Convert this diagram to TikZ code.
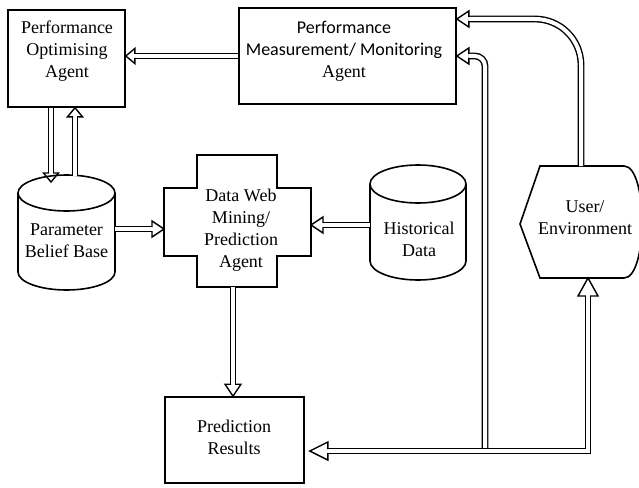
\documentclass[tikz,border=0pt]{standalone}
\usepackage{fontspec}
\setmainfont{LiberationSerif}[Extension=.ttf, UprightFont=*-Regular, BoldFont=*-Bold, ItalicFont=*-Italic, BoldItalicFont=*-BoldItalic]
\newfontfamily\calibfont{Carlito}
\usetikzlibrary{arrows.meta}

% Hollow block-arrow head for double-line connectors: the shaft stays open,
% only the two barbs and the slanted sides are stroked.
\pgfdeclarearrow{
  name = Hollow,
  parameters = {\the\pgfarrowlength,\the\pgfarrowwidth},
  setup code = {
    \pgfarrowssettipend{0pt}
    \pgfarrowssetlineend{-\pgfarrowlength}
    \pgfarrowssetvisualbackend{-\pgfarrowlength}
    \pgfarrowssetbackend{-\pgfarrowlength}
    \pgfarrowshullpoint{0pt}{0pt}
    \pgfarrowshullpoint{-\pgfarrowlength}{.5\pgfarrowwidth}
    \pgfarrowshullpoint{-\pgfarrowlength}{-.5\pgfarrowwidth}
    \pgfarrowssavethe\pgfarrowlength
    \pgfarrowssavethe\pgfarrowwidth
  },
  drawing code = {
    \pgfsetlinewidth{1.4pt}
    \pgfsetmiterjoin
    \pgfsetbuttcap
    \pgfpathmoveto{\pgfqpoint{-\pgfarrowlength}{2pt}}
    \pgfpathlineto{\pgfqpoint{-\pgfarrowlength}{.5\pgfarrowwidth}}
    \pgfpathlineto{\pgfqpoint{0pt}{0pt}}
    \pgfpathlineto{\pgfqpoint{-\pgfarrowlength}{-.5\pgfarrowwidth}}
    \pgfpathlineto{\pgfqpoint{-\pgfarrowlength}{-2pt}}
    \pgfusepathqstroke
  },
  defaults = {length = 12pt, width = 16pt}
}

\tikzset{
  outline/.style={draw, line width=1.6pt, line join=miter},
  box/.style={outline, rectangle, inner sep=0pt},
  lbl/.style={align=center, inner sep=0pt, font=\rmfamily\fontsize{18}{22}\selectfont},
  dbl/.style={double, double distance=4pt, line width=1.4pt, line join=miter},
  smallhead/.style={-{Hollow[length=9pt,width=15pt]}},
  midhead/.style={-{Hollow[length=12pt,width=16pt]}},
  bighead/.style={{Hollow[length=18pt,width=18pt]}-{Hollow[length=18pt,width=20pt]}}
}

\begin{document}
\begin{tikzpicture}[x=1pt,y=-1pt]
\useasboundingbox (0,0) rectangle (639,487);

% --- agents and stores -------------------------------------------------
\node[box, minimum width=117pt, minimum height=97pt] (opt) at (66.5,58.5) {};
\node[lbl] (optT) at (67,51) {Performance\\Optimising\\Agent};

\node[box, minimum width=217pt, minimum height=96pt] (meas) at (347.5,56) {};
\node[lbl] (measT) at (344,51) {{\calibfont Performance}\\{\calibfont Measurement/ Monitoring}\\Agent};

\node[box, minimum width=139pt, minimum height=86pt] (pred) at (234.5,440) {};
\node[lbl] (predT) at (234,437) {Prediction\\Results};

% parameter belief base (cylinder)
\draw[outline] (18,193) -- (18,272) arc[start angle=180, end angle=0, x radius=48.5, y radius=18] -- (115,193);
\draw[outline] (66.5,193) ellipse[x radius=48.5, y radius=18];
\node[lbl] (pbb) at (66.5,241) {Parameter\\Belief Base};
\coordinate (pbbTop) at (66.5,193);
\coordinate (pbbE) at (115,229);

% historical data (cylinder)
\draw[outline] (370,184) -- (370,261) arc[start angle=180, end angle=0, x radius=48, y radius=19] -- (466,184);
\draw[outline] (418,184) ellipse[x radius=48, y radius=19];
\node[lbl] (hist) at (419,239) {Historical\\Data};
\coordinate (histW) at (370,225);

% data web mining / prediction agent (cross)
\draw[outline] (197,155) -- (277,155) -- (277,188) -- (311,188) -- (311,256) -- (277,256)
  -- (277,287) -- (197,287) -- (197,256) -- (164,256) -- (164,188) -- (197,188) -- cycle;
\node[lbl] (dwm) at (241,230) {Data Web\\Mining/\\Prediction\\Agent};
\coordinate (dwmW) at (164,229);
\coordinate (dwmE) at (311,225);
\coordinate (dwmS) at (233,287);

% user / environment (display symbol)
\draw[outline] (540,166) -- (624,166) .. controls (648,166) and (648,278) .. (624,278)
  -- (540,278) -- (520,224) -- cycle;
\node[lbl] (user) at (585,218) {User/\\Environment};
\coordinate (userN) at (581,166);
\coordinate (userS) at (588,278);
\coordinate (loop) at (588,451);

% --- connectors ---------------------------------------------------------
\draw[dbl, smallhead] (meas.west) -- (meas.west -| opt.east);
\draw[dbl, smallhead] ([xshift=-15.5pt]opt.south) -- ([xshift=-15.5pt,yshift=11pt]pbbTop);
\draw[dbl, smallhead] ([xshift=8.5pt,yshift=17pt]pbbTop) -- ([xshift=8.5pt]opt.south);
\draw[dbl, midhead] (pbbE) -- (dwmW);
\draw[dbl, midhead] (histW) -- (dwmE);
\draw[dbl, midhead] (dwmS) -- (dwmS |- pred.north);

\draw[dbl, midhead, rounded corners=10pt] (485,451) |- (meas.east);
\draw[dbl, midhead, rounded corners=46pt] (userN) |- ([yshift=37pt]meas.east);
\draw[dbl, bighead] ([xshift=5pt,yshift=-11pt]pred.east) -- (loop) -- (userS);
\end{tikzpicture}
\end{document}
